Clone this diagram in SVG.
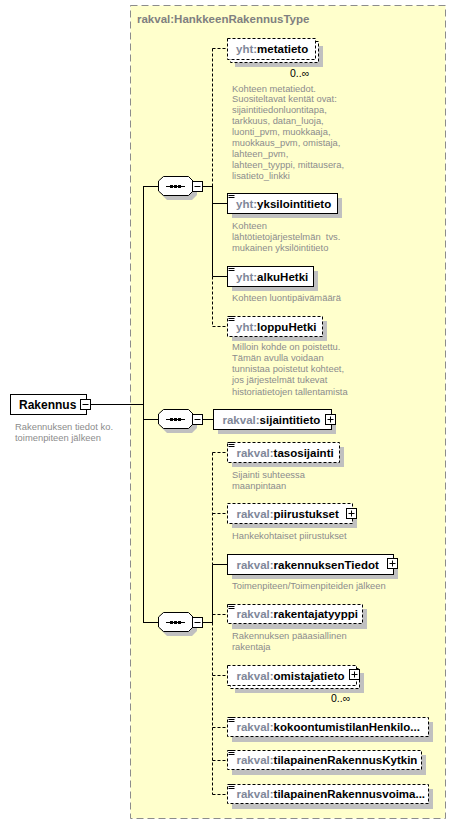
<svg xmlns="http://www.w3.org/2000/svg" width="457" height="825" viewBox="0 0 457 825">
<defs>
<style>
.frame{fill:#FFFFCC;stroke:#8c8c8c;stroke-width:1;stroke-dasharray:7,4}
.box{fill:#fff;stroke:#000;stroke-width:1}
.opt{stroke-dasharray:3,2}
.shadow{fill:#c0c0c0}
.name{font-family:"Liberation Sans",Arial,sans-serif;font-weight:bold;font-size:11.5px;fill:#000}
.ns{fill:#7f8799}
.title{font-family:"Liberation Sans",Arial,sans-serif;font-weight:bold;font-size:11.5px;fill:#808080}
.desc{font-family:"Liberation Sans",Arial,sans-serif;font-size:9.4px;fill:#8c8c8c}
.occ{font-family:"Liberation Sans",Arial,sans-serif;font-size:10.5px;fill:#000}
.ln{stroke:#000;stroke-width:1;fill:none}
.dl{stroke:#000;stroke-width:1;fill:none;stroke-dasharray:3,2}
.icon{stroke:#000;stroke-width:1}
</style>
<g id="ico">
<line class="icon" x1="0" y1="0.5" x2="6" y2="0.5"/>
<line class="icon" x1="0" y1="2.5" x2="6" y2="2.5"/>
<line class="icon" x1="0" y1="4.5" x2="6" y2="4.5"/>
</g>
<g id="plus">
<rect class="box" x="0.5" y="0.5" width="10" height="10"/>
<line class="ln" x1="2.5" y1="5.5" x2="8.5" y2="5.5"/>
<line class="ln" x1="5.5" y1="2.5" x2="5.5" y2="8.5"/>
</g>
<g id="minus">
<rect class="box" x="0.5" y="0.5" width="10" height="10"/>
<line class="ln" x1="2.5" y1="5.5" x2="8.5" y2="5.5"/>
</g>
<g id="seq">
<polygon class="shadow" points="167,-6 192,-6 197,-1 197,9 192,14 167,14 162,9 162,-1"/>
<polygon class="box" points="163.5,-9.5 188.5,-9.5 193,-5 193,5 188.5,9.5 163.5,9.5 158.5,5 158.5,-5"/>
<line class="ln" x1="166" y1="0.5" x2="185" y2="0.5"/>
<rect x="170" y="-1" width="3" height="3" fill="#000"/>
<rect x="174" y="-1" width="3" height="3" fill="#000"/>
<rect x="178" y="-1" width="3" height="3" fill="#000"/>
</g>
</defs>

<rect class="frame" x="130.5" y="5.5" width="315" height="813"/>
<text class="title" x="137" y="23">rakval:HankkeenRakennusType</text>

<g id="connectors">
<line class="ln" x1="90" y1="404.5" x2="143.5" y2="404.5"/>
<line class="ln" x1="143.5" y1="186" x2="143.5" y2="623"/>
<line class="ln" x1="143" y1="186.5" x2="158.5" y2="186.5"/>
<line class="ln" x1="143" y1="419.5" x2="158.5" y2="419.5"/>
<line class="ln" x1="143" y1="622.5" x2="158.5" y2="622.5"/>
<line class="ln" x1="203" y1="186.5" x2="213" y2="186.5"/>
<line class="ln" x1="203" y1="419.5" x2="213.5" y2="419.5"/>
<line class="ln" x1="203" y1="622.5" x2="213" y2="622.5"/>
<line class="dl" x1="212.5" y1="48.5" x2="212.5" y2="186.5"/>
<line class="ln" x1="212.5" y1="186.5" x2="212.5" y2="276.5"/>
<line class="dl" x1="212.5" y1="276.5" x2="212.5" y2="326.5"/>
<line class="dl" x1="212.5" y1="48.5" x2="227.5" y2="48.5"/>
<line class="ln" x1="212.5" y1="203.5" x2="227.5" y2="203.5"/>
<line class="ln" x1="212.5" y1="276.5" x2="227.5" y2="276.5"/>
<line class="dl" x1="212.5" y1="326.5" x2="227.5" y2="326.5"/>
<line class="dl" x1="212.5" y1="452.5" x2="212.5" y2="564.5"/>
<line class="ln" x1="212.5" y1="564.5" x2="212.5" y2="622.5"/>
<line class="dl" x1="212.5" y1="622.5" x2="212.5" y2="794.5"/>
<line class="dl" x1="212.5" y1="452.5" x2="227.5" y2="452.5"/>
<line class="dl" x1="212.5" y1="513.5" x2="227.5" y2="513.5"/>
<line class="ln" x1="212.5" y1="564.5" x2="227.5" y2="564.5"/>
<line class="dl" x1="212.5" y1="614.5" x2="227.5" y2="614.5"/>
<line class="dl" x1="212.5" y1="675.5" x2="227.5" y2="675.5"/>
<line class="dl" x1="212.5" y1="727.5" x2="227.5" y2="727.5"/>
<line class="dl" x1="212.5" y1="760.5" x2="227.5" y2="760.5"/>
<line class="dl" x1="212.5" y1="794.5" x2="227.5" y2="794.5"/>
</g>

<g id="Rakennus">
<rect class="box" x="10.5" y="394.5" width="76" height="20"/>
<text class="name" x="19" y="409" style="font-size:12px">Rakennus</text>
<use href="#minus" x="80" y="399"/>
<text class="desc" x="15" y="430">Rakennuksen tiedot ko.</text>
<text class="desc" x="15" y="441">toimenpiteen jälkeen</text>
</g>

<g id="seq1"><use href="#seq" x="0" y="186"/><use href="#minus" x="192" y="181"/></g>
<g id="seq2"><use href="#seq" x="0" y="419"/><use href="#minus" x="192" y="414"/></g>
<g id="seq3"><use href="#seq" x="0" y="622"/><use href="#minus" x="192" y="617"/></g>

<g id="metatieto">
<rect class="shadow" x="235" y="46" width="88" height="21"/>
<rect class="box opt" x="230.5" y="41.5" width="88" height="21"/>
<rect class="box opt" x="227.5" y="38.5" width="88" height="21"/>
<text class="name" x="236" y="53"><tspan class="ns">yht:</tspan>metatieto</text>
<text class="occ" x="290" y="77">0..∞</text>
<text class="desc" x="232">
<tspan x="232" y="91.5">Kohteen metatiedot.</tspan>
<tspan x="232" y="102.4">Suositeltavat kentät ovat:</tspan>
<tspan x="232" y="113.3">sijaintitiedonluontitapa,</tspan>
<tspan x="232" y="124.2">tarkkuus, datan_luoja,</tspan>
<tspan x="232" y="135.1">luonti_pvm, muokkaaja,</tspan>
<tspan x="232" y="146">muokkaus_pvm, omistaja,</tspan>
<tspan x="232" y="156.9">lahteen_pvm,</tspan>
<tspan x="232" y="167.8">lahteen_tyyppi, mittausera,</tspan>
<tspan x="232" y="178.7">lisatieto_linkki</tspan>
</text>
</g>

<g id="yksilointitieto">
<rect class="shadow" x="232" y="198" width="110" height="20"/>
<rect class="box" x="227.5" y="193.5" width="110" height="20"/>
<use href="#ico" x="228.5" y="193"/>
<text class="name" x="236" y="207.5"><tspan class="ns">yht:</tspan>yksilointitieto</text>
<text class="desc" x="232" y="228.7">Kohteen</text>
<text class="desc" x="232" y="239.6" xml:space="preserve" style="white-space:pre">lähtötietojärjestelmän  tvs.</text>
<text class="desc" x="232" y="250.5">mukainen yksilöintitieto</text>
</g>

<g id="alkuHetki">
<rect class="shadow" x="232" y="271" width="86" height="20"/>
<rect class="box" x="227.5" y="266.5" width="86" height="20"/>
<use href="#ico" x="228.5" y="266"/>
<text class="name" x="236" y="280.5"><tspan class="ns">yht:</tspan>alkuHetki</text>
<text class="desc" x="232" y="300.7">Kohteen luontipäivämäärä</text>
</g>

<g id="loppuHetki">
<rect class="shadow" x="232" y="321" width="95" height="20"/>
<rect class="box opt" x="227.5" y="316.5" width="95" height="20"/>
<use href="#ico" x="228.5" y="316"/>
<text class="name" x="236" y="330.5"><tspan class="ns">yht:</tspan>loppuHetki</text>
<text class="desc">
<tspan x="232" y="349.7">Milloin kohde on poistettu.</tspan>
<tspan x="232" y="360.9">Tämän avulla voidaan</tspan>
<tspan x="232" y="372.1">tunnistaa poistetut kohteet,</tspan>
<tspan x="232" y="383.3">jos järjestelmät tukevat</tspan>
<tspan x="232" y="394.5">historiatietojen tallentamista</tspan>
</text>
</g>

<g id="sijaintitieto">
<rect class="shadow" x="218" y="414" width="118" height="20"/>
<rect class="box" x="213.5" y="409.5" width="118" height="20"/>
<text class="name" x="222.5" y="423.5"><tspan class="ns">rakval:</tspan>sijaintitieto</text>
<use href="#plus" x="325" y="414"/>
</g>

<g id="tasosijainti">
<rect class="shadow" x="232" y="447" width="112" height="20"/>
<rect class="box opt" x="227.5" y="442.5" width="112" height="20"/>
<use href="#ico" x="228.5" y="442"/>
<text class="name" x="236.5" y="456.5"><tspan class="ns">rakval:</tspan>tasosijainti</text>
<text class="desc" x="232" y="478">Sijainti suhteessa</text>
<text class="desc" x="232" y="489">maanpintaan</text>
</g>

<g id="piirustukset">
<rect class="shadow" x="232" y="508" width="125" height="20"/>
<rect class="box opt" x="227.5" y="503.5" width="125" height="20"/>
<text class="name" x="236.5" y="517.5"><tspan class="ns">rakval:</tspan>piirustukset</text>
<use href="#plus" x="346" y="508"/>
<text class="desc" x="232" y="538.7">Hankekohtaiset piirustukset</text>
</g>

<g id="rakennuksenTiedot">
<rect class="shadow" x="232" y="559" width="166" height="20"/>
<rect class="box" x="227.5" y="554.5" width="166" height="20"/>
<text class="name" x="236.5" y="568.5"><tspan class="ns">rakval:</tspan>rakennuksenTiedot</text>
<use href="#plus" x="387" y="558"/>
<text class="desc" x="232" y="588.7">Toimenpiteen/Toimenpiteiden jälkeen</text>
</g>

<g id="rakentajatyyppi">
<rect class="shadow" x="232" y="609" width="135" height="20"/>
<rect class="box opt" x="227.5" y="604.5" width="135" height="19"/>
<use href="#ico" x="228.5" y="604"/>
<text class="name" x="236.5" y="618"><tspan class="ns">rakval:</tspan>rakentajatyyppi</text>
<text class="desc" x="232" y="638.7">Rakennuksen pääasiallinen</text>
<text class="desc" x="232" y="649.7">rakentaja</text>
</g>

<g id="omistajatieto">
<rect class="shadow" x="235" y="673" width="129" height="20"/>
<rect class="box opt" x="230.5" y="668.5" width="129" height="20"/>
<rect class="box opt" x="227.5" y="665.5" width="129" height="20"/>
<text class="name" x="236.5" y="679.5"><tspan class="ns">rakval:</tspan>omistajatieto</text>
<use href="#plus" x="349" y="669"/>
<text class="occ" x="331" y="702">0..∞</text>
</g>

<g id="kokoontumistilanHenkilo">
<rect class="shadow" x="232" y="722" width="201" height="20"/>
<rect class="box opt" x="227.5" y="717.5" width="201" height="19"/>
<use href="#ico" x="228.5" y="717"/>
<text class="name" x="236.5" y="731"><tspan class="ns">rakval:</tspan>kokoontumistilanHenkilo...</text>
</g>

<g id="tilapainenRakennusKytkin">
<rect class="shadow" x="232" y="755" width="194" height="20"/>
<rect class="box opt" x="227.5" y="750.5" width="194" height="19"/>
<use href="#ico" x="228.5" y="750"/>
<text class="name" x="236.5" y="764"><tspan class="ns">rakval:</tspan>tilapainenRakennusKytkin</text>
</g>

<g id="tilapainenRakennusvoima">
<rect class="shadow" x="232" y="789" width="201" height="20"/>
<rect class="box opt" x="227.5" y="784.5" width="201" height="19"/>
<use href="#ico" x="228.5" y="784"/>
<text class="name" x="236.5" y="798"><tspan class="ns">rakval:</tspan>tilapainenRakennusvoima...</text>
</g>
</svg>
